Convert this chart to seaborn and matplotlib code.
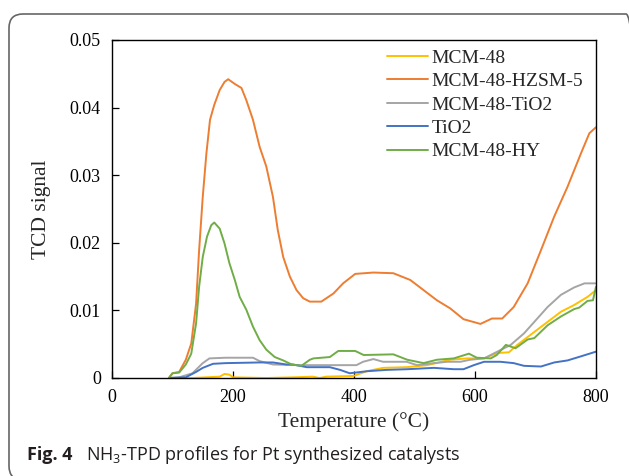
import numpy as np
import pandas as pd
import matplotlib
matplotlib.use("Agg")
import matplotlib.pyplot as plt
import seaborn as sns
from matplotlib.patches import FancyBboxPatch
from matplotlib.transforms import IdentityTransform

# ---------------- data ----------------
series_names = ["MCM-48", "MCM-48-HZSM-5", "MCM-48-TiO2", "TiO2", "MCM-48-HY"]
series_colors = ["#FFC000", "#ED7D31", "#A5A5A5", "#4472C4", "#70AD47"]

T_mcm48 = [94, 133, 178, 186, 194, 200, 255, 300, 332, 343, 354, 399, 421, 448, 487,
           521, 559, 587, 615, 637, 656, 670, 692, 720, 742, 764, 786, 800]
v_mcm48 = [0, 0, 0.0002, 0.0006, 0.0005, 0.0001, 0, 0.0001, 0.0002, 0, 0.0002, 0.0003, 0.0010,
           0.0015, 0.0016, 0.0019, 0.0027, 0.0029, 0.0029, 0.0037, 0.0038, 0.0049, 0.0064,
           0.0083, 0.0098, 0.0108, 0.0120, 0.0130]

T_hzsm5 = [94, 100, 111, 122, 131, 139, 144, 150, 156, 162, 169, 178, 186, 192, 203, 214,
           222, 233, 244, 255, 266, 274, 283, 294, 305, 316, 327, 346, 366, 382, 402, 432,
           465, 493, 515, 537, 559, 581, 609, 628, 645, 664, 687, 709, 731, 753, 775, 789, 800]
v_hzsm5 = [0, 0.0007, 0.0009, 0.0027, 0.0051, 0.0110, 0.0189, 0.0268, 0.0332, 0.0382,
           0.0404, 0.0426, 0.0438, 0.0442, 0.0435, 0.0429, 0.0411, 0.0382, 0.0342, 0.0313,
           0.0268, 0.0219, 0.0179, 0.0150, 0.0130, 0.0118, 0.0113, 0.0113, 0.0125, 0.0140,
           0.0154, 0.0156, 0.0155, 0.0145, 0.0130, 0.0115, 0.0103, 0.0087, 0.0080, 0.0088,
           0.0088, 0.0105, 0.0140, 0.0189, 0.0239, 0.0283, 0.0332, 0.0362, 0.0371]

T_mcmtio2 = [94, 111, 133, 150, 161, 188, 233, 244, 266, 310, 366, 404, 415, 432, 448, 487,
             504, 532, 554, 576, 592, 615, 637, 659, 681, 698, 720, 742, 764, 781, 800]
v_mcmtio2 = [0, 0.0001, 0.0007, 0.0022, 0.0029, 0.0030, 0.0030, 0.0025, 0.0020, 0.0019,
             0.0019, 0.0019, 0.0024, 0.0028, 0.0024, 0.0024, 0.0019, 0.0022, 0.0024, 0.0024,
             0.0027, 0.0029, 0.0039, 0.0049, 0.0066, 0.0083, 0.0105, 0.0123, 0.0134, 0.0140,
             0.0140]

T_tio2 = [94, 122, 139, 150, 167, 188, 244, 266, 288, 299, 322, 360, 377, 393, 421, 454,
          488, 532, 565, 581, 598, 615, 642, 664, 681, 709, 731, 753, 775, 800]
v_tio2 = [0, 0.0001, 0.0009, 0.0015, 0.0021, 0.0022, 0.0023, 0.0023, 0.0020, 0.0020, 0.0016,
          0.0016, 0.0012, 0.0007, 0.0010, 0.0012, 0.0013, 0.0015, 0.0013, 0.0013, 0.0019,
          0.0024, 0.0024, 0.0022, 0.0018, 0.0017, 0.0023, 0.0026, 0.0032, 0.0039]

T_hy = [94, 100, 111, 122, 131, 139, 144, 150, 157, 164, 169, 178, 186, 194, 203, 211, 222,
        233, 244, 255, 269, 283, 297, 313, 327, 333, 360, 374, 402, 416, 465, 488, 515, 537,
        565, 590, 603, 626, 636, 651, 667, 687, 698, 720, 742, 764, 772, 786, 795, 800]
v_hy = [0, 0.0007, 0.0008, 0.0020, 0.0036, 0.0081, 0.0135, 0.0179, 0.0209, 0.0226, 0.0230,
        0.0221, 0.0199, 0.0170, 0.0145, 0.0120, 0.0101, 0.0076, 0.0056, 0.0042, 0.0031,
        0.0026, 0.0020, 0.0018, 0.0027, 0.0029, 0.0031, 0.0040, 0.0040, 0.0034, 0.0035,
        0.0027, 0.0022, 0.0027, 0.0029, 0.0036, 0.0030, 0.0029, 0.0034, 0.0049, 0.0044,
        0.0057, 0.0059, 0.0078, 0.0091, 0.0102, 0.0104, 0.0114, 0.0115, 0.0135]

x_ticks = [0, 200, 400, 600, 800]
y_ticks = [0, 0.01, 0.02, 0.03, 0.04, 0.05]
y_tick_labels = ["0", "0.01", "0.02", "0.03", "0.04", "0.05"]

# ---------------- build table ----------------
pairs = [(T_mcm48, v_mcm48), (T_hzsm5, v_hzsm5), (T_mcmtio2, v_mcmtio2),
         (T_tio2, v_tio2), (T_hy, v_hy)]
frames = []
for name, (t, v) in zip(series_names, pairs):
    frames.append(pd.DataFrame({"Temperature": t, "signal": v, "sample": name}))
df = pd.concat(frames, ignore_index=True)

# ---------------- style ----------------
sns.set_theme(style="white")
plt.rcParams["font.family"] = ["Liberation Serif", "DejaVu Serif"]
plt.rcParams["mathtext.fontset"] = "custom"
plt.rcParams["mathtext.rm"] = "Open Sans"
plt.rcParams["mathtext.default"] = "regular"

fig = plt.figure(figsize=(6.29, 4.76), dpi=100)
ax = fig.add_axes([112 / 629, 1 - 378 / 476, 484 / 629, 338 / 476])

sns.lineplot(data=df, x="Temperature", y="signal", hue="sample", hue_order=series_names,
             palette=series_colors, estimator=None, sort=False, linewidth=1.4, ax=ax)

ax.set_xlim(0, 800)
ax.set_ylim(0, 0.05)
ax.set_xticks(x_ticks)
ax.set_xticklabels([str(t) for t in x_ticks])
ax.set_yticks(y_ticks)
ax.set_yticklabels(y_tick_labels)
ax.tick_params(axis="both", direction="in", length=5, width=0.9, colors="black",
               labelsize=13, pad=8, bottom=True, left=True)
for sp in ax.spines.values():
    sp.set_color("black")
    sp.set_linewidth(1.0)

ax.set_xlabel("Temperature (°C)", fontsize=15.5)
ax.set_ylabel("TCD signal", fontsize=15.5)
ax.xaxis.set_label_coords(0.5, -0.101)
ax.yaxis.set_label_coords(-0.125, 0.5)

handles, labels = ax.get_legend_handles_labels()
ax.legend(handles, labels, loc="upper left", bbox_to_anchor=(387 / 629, 1 - 49 / 476),
          bbox_transform=fig.transFigure, frameon=False, fontsize=14,
          handlelength=2.1, handletextpad=0.2, labelspacing=0.3, borderpad=0,
          borderaxespad=0)

# caption
cap_y = 1 - 460 / 476
fig.text(27 / 629, cap_y, "Fig. 4", fontsize=13, fontweight="bold",
         family=["Open Sans", "DejaVu Sans"], va="baseline", ha="left", color="#231f20")
fig.text(86 / 629, cap_y, "NH$_3$-TPD profiles for Pt synthesized catalysts",
         fontsize=13, family=["Open Sans", "DejaVu Sans"], va="baseline", ha="left",
         color="#231f20")

# rounded frame around the figure
frame = FancyBboxPatch((9, -4), 631, 466, boxstyle="round,pad=0,rounding_size=14",
                       transform=IdentityTransform(), fill=False, edgecolor="#666666",
                       linewidth=1.2, clip_on=False)
fig.patches.append(frame)

fig.savefig("out.png", dpi=100)
